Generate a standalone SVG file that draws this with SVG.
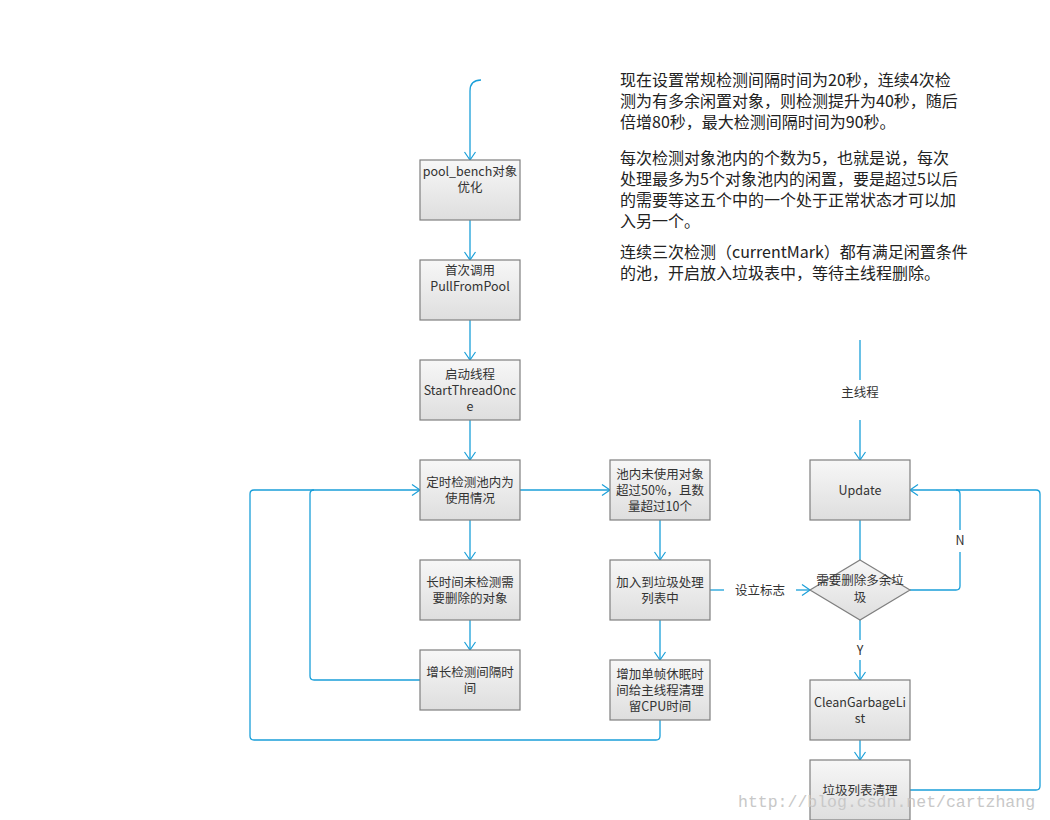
<svg xmlns="http://www.w3.org/2000/svg" width="1050" height="820" viewBox="0 0 1050 820">
<defs>
<linearGradient id="g" x1="0" y1="0" x2="0" y2="1">
<stop offset="0" stop-color="#f7f7f7"/>
<stop offset="1" stop-color="#dedede"/>
</linearGradient>
<marker id="ah" markerUnits="userSpaceOnUse" markerWidth="12" markerHeight="14" refX="9" refY="6" orient="auto">
<path d="M1,0.5 L9,6 L1,11.5" fill="none" stroke="#1a9fd9" stroke-width="1.2"/>
</marker>
</defs>
<style>
.box{fill:url(#g);stroke:#7f7f7f;stroke-width:1.2}
.t{font-family:"Noto Sans CJK SC","Noto Sans",sans-serif;font-size:12.5px;fill:#333;text-anchor:middle}
.p{font-family:"Noto Sans CJK SC","Noto Sans",sans-serif;font-size:16px;fill:#222}
.c{fill:none;stroke:#1a9fd9;stroke-width:1.3}
.ca{fill:none;stroke:#1a9fd9;stroke-width:1.3;marker-end:url(#ah)}
.wm{font-family:"Liberation Mono",monospace;font-size:16.5px;fill:#c8c8c8}
</style>
<rect width="1050" height="820" fill="#ffffff"/>

<g id="connectors">
<path class="ca" d="M481,80 Q470,80 470,91 L470,160"/>
<path class="ca" d="M470,220 L470,260"/>
<path class="ca" d="M470,320 L470,360"/>
<path class="ca" d="M470,420 L470,460"/>
<path class="ca" d="M470,520 L470,560"/>
<path class="ca" d="M470,620 L470,650"/>
<path class="ca" d="M520,490 L610,490"/>
<path class="c" d="M420,680 L314,680 Q310,680 310,676 L310,494 Q310,490 314,490"/>
<path class="ca" d="M660,720 L660,736 Q660,740 656,740 L254,740 Q250,740 250,736 L250,494 Q250,490 254,490 L420,490"/>
<path class="ca" d="M660,520 L660,560"/>
<path class="ca" d="M660,620 L660,660"/>
<path class="c" d="M710,590 L724,590"/>
<path class="ca" d="M796,590 L810,590"/>
<path class="c" d="M860,340 L860,380"/>
<path class="ca" d="M860,420 L860,460"/>
<path class="c" d="M860,520 L860,560"/>
<path class="c" d="M910,590 L956,590 Q960,590 960,586 L960,552"/>
<path class="ca" d="M960,530 L960,494 Q960,490 956,490 L910,490"/>
<path class="c" d="M860,620 L860,640"/>
<path class="ca" d="M860,660 L860,680"/>
<path class="ca" d="M860,740 L860,760"/>
<path class="c" d="M910,790 L1036,790 Q1040,790 1040,786 L1040,494 Q1040,490 1036,490 L956,490"/>
<text class="t" x="760" y="595">设立标志</text>
<text class="t" x="860" y="397">主线程</text>
<text class="t" x="960" y="545">N</text>
<text class="t" x="860" y="655">Y</text>
</g>

<g id="n1"><rect class="box" x="420" y="160" width="100" height="60"/><text class="t" x="470" y="176">pool_bench对象</text><text class="t" x="470" y="192">优化</text></g>
<g id="n2"><rect class="box" x="420" y="260" width="100" height="60"/><text class="t" x="470" y="275">首次调用</text><text class="t" x="470" y="291">PullFromPool</text></g>
<g id="n3"><rect class="box" x="420" y="360" width="100" height="60"/><text class="t" x="470" y="379">启动线程</text><text class="t" x="470" y="395">StartThreadOnc</text><text class="t" x="470" y="411">e</text></g>
<g id="n4"><rect class="box" x="420" y="460" width="100" height="60"/><text class="t" x="470" y="487">定时检测池内为</text><text class="t" x="470" y="503">使用情况</text></g>
<g id="n5"><rect class="box" x="420" y="560" width="100" height="60"/><text class="t" x="470" y="587">长时间未检测需</text><text class="t" x="470" y="603">要删除的对象</text></g>
<g id="n6"><rect class="box" x="420" y="650" width="100" height="60"/><text class="t" x="470" y="677">增长检测间隔时</text><text class="t" x="470" y="693">间</text></g>
<g id="n7"><rect class="box" x="610" y="460" width="100" height="60"/><text class="t" x="660" y="479">池内未使用对象</text><text class="t" x="660" y="495">超过50%，且数</text><text class="t" x="660" y="511">量超过10个</text></g>
<g id="n8"><rect class="box" x="610" y="560" width="100" height="60"/><text class="t" x="660" y="587">加入到垃圾处理</text><text class="t" x="660" y="603">列表中</text></g>
<g id="n9"><rect class="box" x="610" y="660" width="100" height="60"/><text class="t" x="660" y="679">增加单帧休眠时</text><text class="t" x="660" y="695">间给主线程清理</text><text class="t" x="660" y="711">留CPU时间</text></g>
<g id="n10"><rect class="box" x="810" y="460" width="100" height="60"/><text class="t" x="860" y="495">Update</text></g>
<g id="n11"><path class="box" d="M860,560 L910,590 L860,620 L810,590 Z"/><text class="t" x="860" y="585">需要删除多余垃</text><text class="t" x="860" y="602">圾</text></g>
<g id="n12"><rect class="box" x="810" y="680" width="100" height="60"/><text class="t" x="860" y="707">CleanGarbageLi</text><text class="t" x="860" y="723">st</text></g>
<g id="n13"><rect class="box" x="810" y="760" width="100" height="60"/><text class="t" x="860" y="795">垃圾列表清理</text></g>

<g id="note">
<text class="p" x="620" y="86">现在设置常规检测间隔时间为20秒，连续4次检</text>
<text class="p" x="620" y="107">测为有多余闲置对象，则检测提升为40秒，随后</text>
<text class="p" x="620" y="128">倍增80秒，最大检测间隔时间为90秒。</text>
<text class="p" x="620" y="164">每次检测对象池内的个数为5，也就是说，每次</text>
<text class="p" x="620" y="185">处理最多为5个对象池内的闲置，要是超过5以后</text>
<text class="p" x="620" y="206">的需要等这五个中的一个处于正常状态才可以加</text>
<text class="p" x="620" y="227">入另一个。</text>
<text class="p" x="620" y="258">连续三次检测（currentMark）都有满足闲置条件</text>
<text class="p" x="620" y="279">的池，开启放入垃圾表中，等待主线程删除。</text>
</g>
<text class="wm" x="738" y="807">http://blog.csdn.net/cartzhang</text>
</svg>
